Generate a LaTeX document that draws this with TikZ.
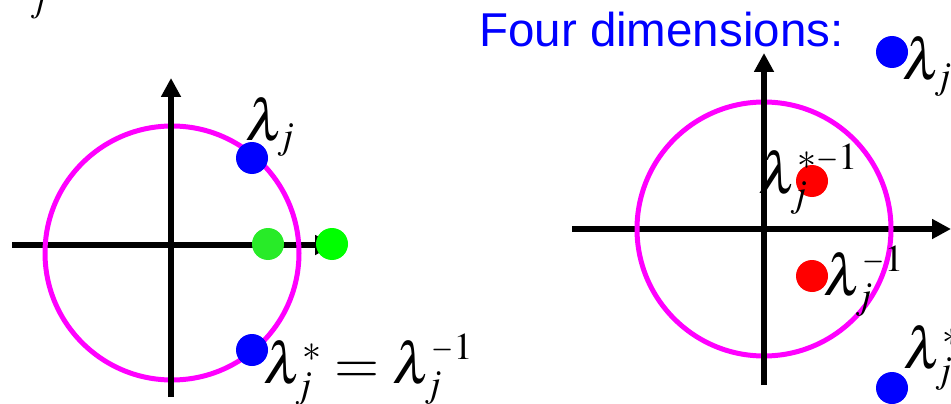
\documentclass[tikz,border=0pt]{standalone}
\usepackage{mathptmx}
\usepackage{fontspec}
\newfontfamily\arialfont{Liberation Sans}
\DeclareMathSizes{58}{58}{38}{28}
\DeclareMathSizes{36}{36}{26}{20}
\usetikzlibrary{arrows.meta}
\newcommand\shortminus{\scalebox{0.75}[1]{$\scriptstyle-$}}
\definecolor{mag}{RGB}{255,0,255}
\definecolor{pblue}{RGB}{0,0,255}
\definecolor{pgreen}{RGB}{0,255,0}
\definecolor{pgreenlt}{RGB}{40,235,40}
\definecolor{pred}{RGB}{255,0,0}
\begin{document}
\begin{tikzpicture}[x=1pt,y=-1pt,
  axis/.style={line width=6pt,-{Triangle[length=19pt,width=19pt]}},
  ring/.style={circle,draw=mag,line width=5pt,inner sep=0pt},
  dot/.style={circle,inner sep=0pt,minimum size=32pt},
  lab/.style={inner sep=0pt,anchor=base west,font=\fontsize{58}{60}\selectfont},
  smalllab/.style={inner sep=0pt,anchor=base west,font=\fontsize{36}{38}\selectfont},
  titletext/.style={inner sep=0pt,anchor=base west,font=\fontsize{47.5}{50}\selectfont\arialfont,text=pblue}]
\useasboundingbox (0,0) rectangle (951,404);

% ---------- left diagram ----------
\coordinate (Lxs) at (12,245);
\coordinate (Lxe) at (334,245);
\coordinate (Lys) at (171,397);
\coordinate (Lye) at (171,78);
\draw[axis] (Lxs) -- (Lxe);
\node[ring,minimum size=254pt] (Lcirc) at (172,253) {};
\draw[axis] (Lys) -- (Lye);
\node[dot,fill=pblue] (Lb1) at (252,158) {};
\node[dot,fill=pblue] (Lb2) at (252,350) {};
\node[dot,fill=pgreenlt] (Lg1) at (268,244) {};
\node[dot,fill=pgreen] (Lg2) at (332,244) {};
\node[lab] (Llab1) at (245,140) {$\lambda_j$};
\node[lab] (Llab2) at (263,383) {$\lambda_j^{*} = \lambda_j^{\shortminus 1}$};
\node[smalllab] (Ltopj) at (30,12) {$j$};

% ---------- right diagram ----------
\node[titletext] (title) at (479,47) {Four dimensions:};
\coordinate (Rxs) at (572,229);
\coordinate (Rxe) at (951,229);
\coordinate (Rys) at (764,385);
\coordinate (Rye) at (764,53);
\draw[axis] (Rxs) -- (Rxe);
\node[ring,minimum size=254pt] (Rcirc) at (764,229) {};
\draw[axis] (Rys) -- (Rye);
\node[dot,fill=pred] (Rr1) at (812,181) {};
\node[dot,fill=pred] (Rr2) at (812,276) {};
\node[dot,fill=pblue] (Rb1) at (892,52) {};
\node[dot,fill=pblue] (Rb2) at (892,388) {};
\node[lab] (Rlab1) at (758,193) {$\lambda_j^{*\shortminus 1}$};
\node[lab] (Rlab2) at (823,295) {$\lambda_j^{\shortminus 1}$};
\node[lab] (Rlab3) at (902,80) {$\lambda_j$};
\node[lab] (Rlab4) at (903,368) {$\lambda_j^*$};
\end{tikzpicture}
\end{document}
